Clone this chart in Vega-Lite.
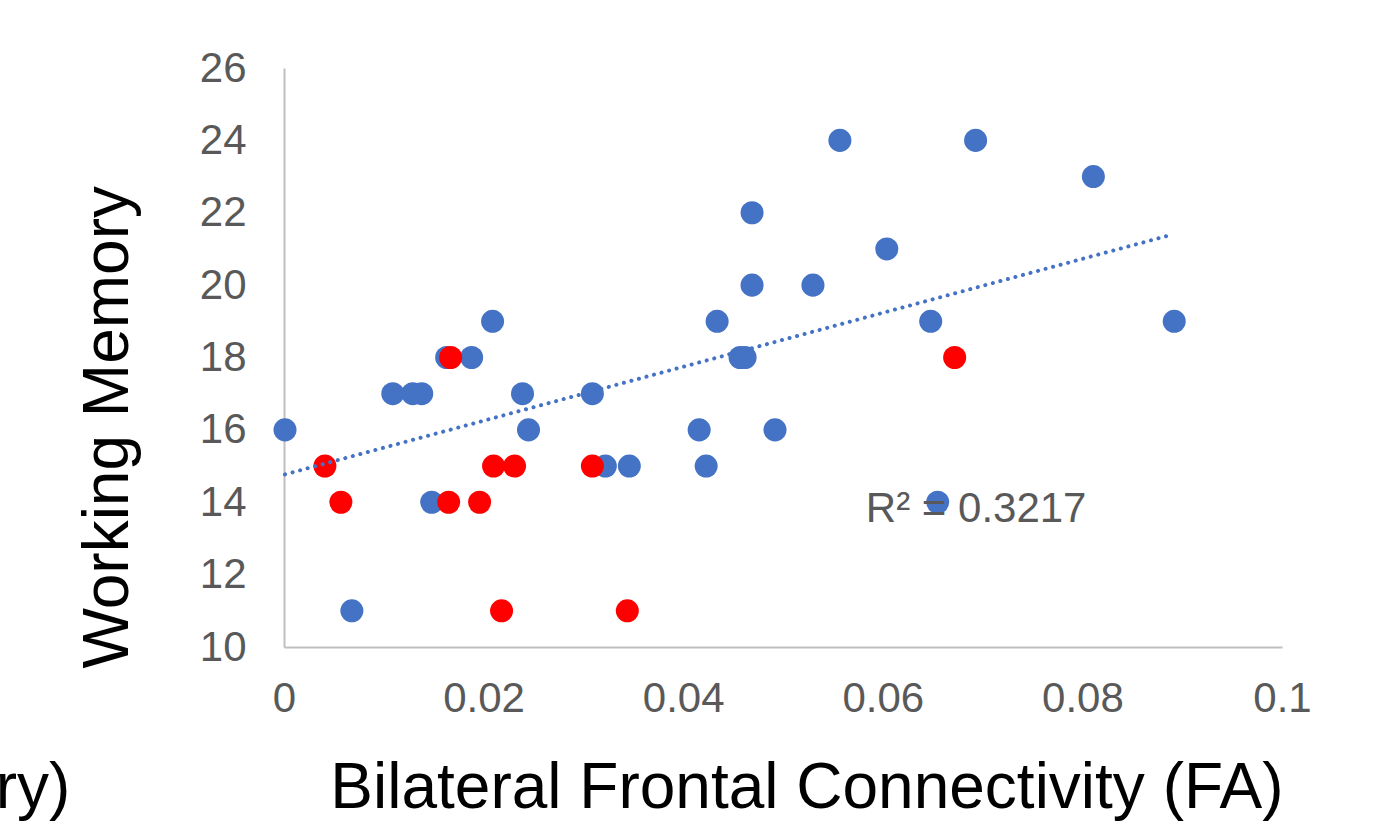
{
  "$schema": "https://vega.github.io/schema/vega-lite/v6.json",
  "width": 998,
  "height": 579,
  "autosize": {"type": "none"},
  "padding": {"left": 284, "top": 68, "right": 106, "bottom": 191},
  "background": "white",
  "config": {
    "view": {"stroke": null},
    "font": "Liberation Sans",
    "axis": {
      "grid": false,
      "ticks": false,
      "domainColor": "#bfbfbf",
      "domainWidth": 2,
      "labelFont": "Liberation Sans",
      "labelFontSize": 42,
      "labelColor": "#595959",
      "labelFlush": false,
      "labelOverlap": false,
      "labelBound": false,
      "titleFont": "Liberation Sans",
      "titleFontSize": 64,
      "titleFontWeight": "normal",
      "titleColor": "#000000"
    }
  },
  "datasets": {
    "points": [
      {"fa": 0.0001, "wm": 16, "series": "Series 1"},
      {"fa": 0.0068, "wm": 11, "series": "Series 1"},
      {"fa": 0.0109, "wm": 17, "series": "Series 1"},
      {"fa": 0.0129, "wm": 17, "series": "Series 1"},
      {"fa": 0.0138, "wm": 17, "series": "Series 1"},
      {"fa": 0.0148, "wm": 14, "series": "Series 1"},
      {"fa": 0.0163, "wm": 18, "series": "Series 1"},
      {"fa": 0.0188, "wm": 18, "series": "Series 1"},
      {"fa": 0.0209, "wm": 19, "series": "Series 1"},
      {"fa": 0.0239, "wm": 17, "series": "Series 1"},
      {"fa": 0.0245, "wm": 16, "series": "Series 1"},
      {"fa": 0.0309, "wm": 17, "series": "Series 1"},
      {"fa": 0.0322, "wm": 15, "series": "Series 1"},
      {"fa": 0.0346, "wm": 15, "series": "Series 1"},
      {"fa": 0.0416, "wm": 16, "series": "Series 1"},
      {"fa": 0.0423, "wm": 15, "series": "Series 1"},
      {"fa": 0.0434, "wm": 19, "series": "Series 1"},
      {"fa": 0.0457, "wm": 18, "series": "Series 1"},
      {"fa": 0.0462, "wm": 18, "series": "Series 1"},
      {"fa": 0.0469, "wm": 22, "series": "Series 1"},
      {"fa": 0.0469, "wm": 20, "series": "Series 1"},
      {"fa": 0.0492, "wm": 16, "series": "Series 1"},
      {"fa": 0.0530, "wm": 20, "series": "Series 1"},
      {"fa": 0.0557, "wm": 24, "series": "Series 1"},
      {"fa": 0.0604, "wm": 21, "series": "Series 1"},
      {"fa": 0.0648, "wm": 19, "series": "Series 1"},
      {"fa": 0.0655, "wm": 14, "series": "Series 1"},
      {"fa": 0.0693, "wm": 24, "series": "Series 1"},
      {"fa": 0.0811, "wm": 23, "series": "Series 1"},
      {"fa": 0.0892, "wm": 19, "series": "Series 1"},
      {"fa": 0.0041, "wm": 15, "series": "Series 2"},
      {"fa": 0.0057, "wm": 14, "series": "Series 2"},
      {"fa": 0.0167, "wm": 18, "series": "Series 2"},
      {"fa": 0.0165, "wm": 14, "series": "Series 2"},
      {"fa": 0.0196, "wm": 14, "series": "Series 2"},
      {"fa": 0.0210, "wm": 15, "series": "Series 2"},
      {"fa": 0.0218, "wm": 11, "series": "Series 2"},
      {"fa": 0.0231, "wm": 15, "series": "Series 2"},
      {"fa": 0.0309, "wm": 15, "series": "Series 2"},
      {"fa": 0.0344, "wm": 11, "series": "Series 2"},
      {"fa": 0.0672, "wm": 18, "series": "Series 2"}
    ],
    "trend": [
      {"fa": 0.0001, "wm": 14.77},
      {"fa": 0.0885, "wm": 21.36}
    ],
    "notes": [
      {"fa": 0.0583, "wm": 13.46, "label": "R² = 0.3217"}
    ],
    "clipped": [
      {"fa": -0.0214, "wm": 5.55, "label": "ry)"}
    ]
  },
  "layer": [
    {
      "data": {"name": "points"},
      "mark": {"type": "point", "shape": "circle", "filled": true, "opacity": 1, "size": 530, "strokeWidth": 0},
      "encoding": {
        "x": {
          "field": "fa", "type": "quantitative",
          "scale": {"domain": [0, 0.1], "nice": false, "zero": false},
          "axis": {
            "values": [0, 0.02, 0.04, 0.06, 0.08, 0.1],
            "format": "~g",
            "labelPadding": 31,
            "title": "Bilateral Frontal Connectivity (FA)",
            "titleAnchor": "end",
            "titleAlign": "right",
            "titleBaseline": "alphabetic",
            "titleX": 999,
            "titleY": 160
          }
        },
        "y": {
          "field": "wm", "type": "quantitative",
          "scale": {"domain": [10, 26], "nice": false, "zero": false},
          "axis": {
            "values": [10, 12, 14, 16, 18, 20, 22, 24, 26],
            "labelPadding": 38,
            "title": "Working Memory",
            "titleAngle": -90,
            "titleAlign": "left",
            "titleBaseline": "alphabetic",
            "titleX": -157,
            "titleY": 600
          }
        },
        "color": {
          "field": "series", "type": "nominal",
          "scale": {"domain": ["Series 1", "Series 2"], "range": ["#4472C4", "#FF0000"]},
          "legend": null
        }
      }
    },
    {
      "data": {"name": "trend"},
      "mark": {"type": "line", "color": "#4472C4", "strokeWidth": 4, "strokeCap": "round", "strokeDash": [0.1, 7.7]},
      "encoding": {
        "x": {"field": "fa", "type": "quantitative"},
        "y": {"field": "wm", "type": "quantitative"}
      }
    },
    {
      "data": {"name": "notes"},
      "mark": {"type": "text", "align": "left", "baseline": "alphabetic", "font": "Liberation Sans", "fontSize": 42, "color": "#595959"},
      "encoding": {
        "x": {"field": "fa", "type": "quantitative"},
        "y": {"field": "wm", "type": "quantitative"},
        "text": {"field": "label"}
      }
    },
    {
      "data": {"name": "clipped"},
      "mark": {"type": "text", "align": "right", "baseline": "alphabetic", "font": "Liberation Sans", "fontSize": 64, "color": "#000000"},
      "encoding": {
        "x": {"field": "fa", "type": "quantitative"},
        "y": {"field": "wm", "type": "quantitative"},
        "text": {"field": "label"}
      }
    }
  ]
}
